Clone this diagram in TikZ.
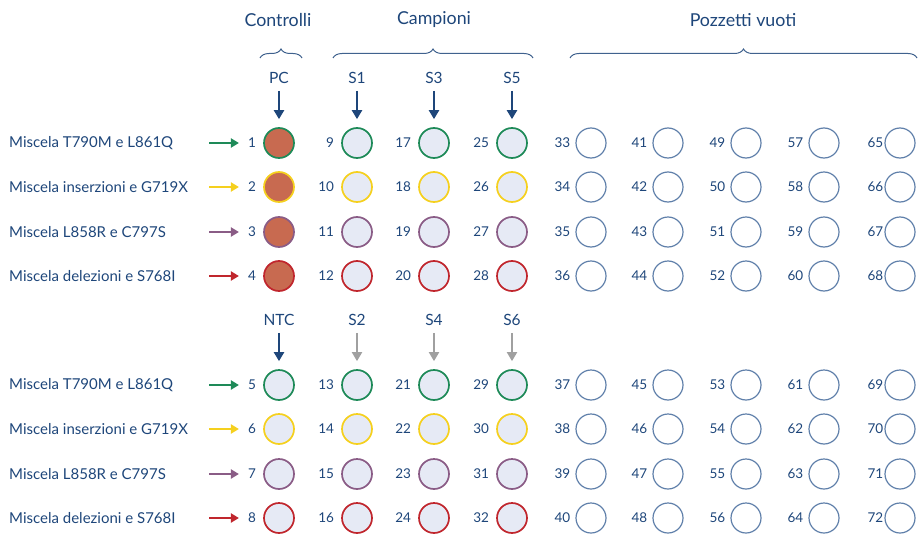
\documentclass[tikz,border=0pt]{standalone}
\usepackage{fontspec}
\setmainfont{Lato}
\usetikzlibrary{arrows.meta, decorations.pathreplacing, positioning}

\definecolor{navy}{RGB}{30,70,122}
\definecolor{steel}{RGB}{96,128,170}
\definecolor{wellfill}{RGB}{230,234,245}
\definecolor{pcfill}{RGB}{200,106,80}
\definecolor{mixg}{RGB}{30,138,88}
\definecolor{mixy}{RGB}{245,208,30}
\definecolor{mixp}{RGB}{138,92,134}
\definecolor{mixr}{RGB}{192,38,45}
\definecolor{grayarr}{RGB}{160,160,160}

\tikzset{
  well/.style={circle, minimum size=30pt, inner sep=0pt, line width=1.7pt},
  num/.style={font=\fontsize{13.5}{15}\selectfont, text=navy, inner sep=0pt},
  mixlabel/.style={anchor=west, font=\fontsize{15}{17}\selectfont, text=navy, inner sep=0pt},
  collabel/.style={font=\fontsize{15.5}{17}\selectfont, text=navy, inner sep=0pt},
  heading/.style={font=\fontsize{17.8}{20}\selectfont, text=navy, inner sep=0pt},
  colarrow/.style={-{Triangle[length=9pt,width=10pt]}, line width=2.6pt, shorten <=7pt, shorten >=8pt},
  rowarrow/.style={-{Triangle[length=8pt,width=9pt]}, line width=2.6pt, shorten >=9pt},
  bracket/.style={decorate, decoration={brace, amplitude=9pt}, draw=navy!85!white, line width=1pt}
}

\begin{document}
\begin{tikzpicture}[x=1pt, y=-1pt, >=Stealth]
  \useasboundingbox (0,0) rectangle (918,535);

  % --- headings with braces ---
  \node[heading] (hctrl) at (278,20) {Controlli};
  \node[heading] (hsamp) at (434,20) {Campioni};
  \node[heading] (hempty) at (743,20) {Pozzetti vuoti};
  \draw[bracket] (260,58) -- (302,58);
  \draw[bracket] (333,58) -- (533,58);
  \draw[bracket] (570,58) -- (917,58);

  % --- wells of controls and samples ---
  \foreach \c/\cx in {0/279,1/357,2/434,3/512}
    \foreach \r/\ry/\mix in {0/143/mixg,1/187/mixy,2/232/mixp,3/276/mixr,
                              4/385/mixg,5/429/mixy,6/474/mixp,7/518/mixr} {
      \pgfmathtruncatemacro\n{8*\c+\r+1}
      \ifnum\n<5 \def\bg{pcfill}\else\def\bg{wellfill}\fi
      \node[well, draw=\mix, fill=\bg] (w\n) at (\cx,\ry) {};
      \node[num, left=7pt of w\n] (n\n) {\n};
    }

  % --- empty wells ---
  \foreach \c/\cx/\gap in {4/591/5pt,5/668/5pt,6/746/5pt,7/824/5pt,8/900/1pt}
    \foreach \r/\ry in {0/143,1/187,2/232,3/276,4/385,5/429,6/474,7/518} {
      \pgfmathtruncatemacro\n{8*\c+\r+1}
      \node[well, draw=steel, fill=white, line width=1.2pt] (w\n) at (\cx,\ry) {};
      \node[num, left=\gap of w\n] (n\n) {\n};
    }

  % --- mixes on the left ---
  \foreach \r/\ry/\mix/\txt in {0/143/mixg/Miscela T790M e L861Q,
                                 1/187/mixy/Miscela inserzioni e G719X,
                                 2/232/mixp/Miscela L858R e C797S,
                                 3/276/mixr/Miscela delezioni e S768I,
                                 4/385/mixg/Miscela T790M e L861Q,
                                 5/429/mixy/Miscela inserzioni e G719X,
                                 6/474/mixp/Miscela L858R e C797S,
                                 7/518/mixr/Miscela delezioni e S768I} {
    \pgfmathtruncatemacro\n{\r+1}
    \node[mixlabel] (mix\n) at (9,\ry) {\txt};
    \coordinate (start\n) at (209,\ry);
    \draw[rowarrow, \mix] (start\n) -- (n\n.west);
  }

  % --- column labels ---
  \node[collabel] (pc) at (279,78) {PC};
  \node[collabel] (s1) at (357,78) {S1};
  \node[collabel] (s3) at (434,78) {S3};
  \node[collabel] (s5) at (512,78) {S5};
  \node[collabel] (ntc) at (279,320) {NTC};
  \node[collabel] (s2) at (357,320) {S2};
  \node[collabel] (s4) at (434,320) {S4};
  \node[collabel] (s6) at (512,320) {S6};

  \draw[colarrow, navy] (pc) -- (w1);
  \draw[colarrow, navy] (s1) -- (w9);
  \draw[colarrow, navy] (s3) -- (w17);
  \draw[colarrow, navy] (s5) -- (w25);
  \draw[colarrow, navy] (ntc) -- (w5);
  \draw[colarrow, grayarr, line width=2pt] (s2) -- (w13);
  \draw[colarrow, grayarr, line width=2pt] (s4) -- (w21);
  \draw[colarrow, grayarr, line width=2pt] (s6) -- (w29);

\end{tikzpicture}
\end{document}
